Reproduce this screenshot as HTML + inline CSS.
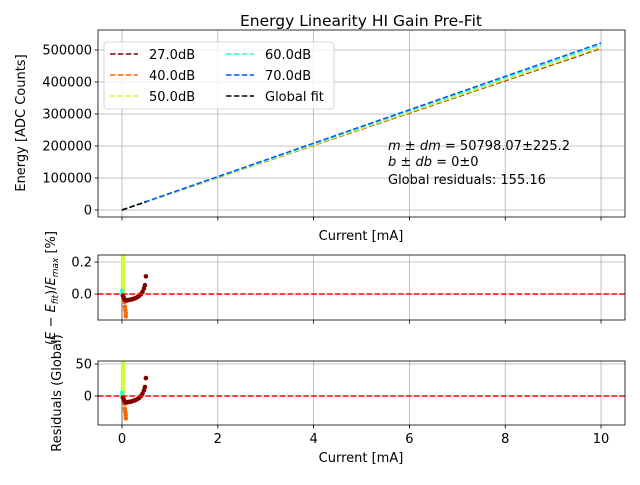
<!DOCTYPE html>
<html><head><meta charset="utf-8"><style>
body{margin:0;background:#fff;}
svg text{font-family:"DejaVu Sans","Liberation Sans",sans-serif;fill:#000;}
</style></head><body>
<svg id="c" width="640" height="480"></svg>
<script>
const gains=["27.0dB","40.0dB","50.0dB","60.0dB","70.0dB"];
const colors=["#800000","#ff6600","#ccff33","#33ffcc","#0055ff"];
const endEnergy=[505000,507000,509000,516000,522000];
const redX=[0.02,0.04,0.06,0.08,0.1,0.13,0.16,0.2,0.24,0.28,0.32,0.36,0.4,0.43,0.46,0.48,0.5];
const redRel=[-0.01,-0.025,-0.035,-0.04,-0.04,-0.038,-0.036,-0.034,-0.03,-0.026,-0.02,-0.012,0.0,0.015,0.035,0.055,0.11];
const redRes=[-2.5,-6,-9,-10,-10,-9.5,-9,-8.5,-7.5,-6.5,-5,-3,0,4,9,14,28];
const orX=[0.04,0.05,0.06,0.07,0.08,0.08];
const orRel=[-0.02,-0.05,-0.08,-0.1,-0.12,-0.14];
const orRes=[-5,-12,-20,-25,-30,-35];
const cyX=[0.0,0.01];
const cyRel=[0.02,0.0];
const cyRes=[5,0];
const xTicks=[0,2,4,6,8,10];
const yTicksTop=[0,100000,200000,300000,400000,500000];
const yTicksMid=[0.0,0.2];
const yTicksBot=[0,50];

const svg=document.getElementById('c');
const NS="http://www.w3.org/2000/svg";
function el(t,a,txt){const e=document.createElementNS(NS,t);for(const k in a)e.setAttribute(k,a[k]);if(txt!==undefined)e.textContent=txt;svg.appendChild(e);return e;}
const X0=98,X1=625,xmin=-0.5,xmax=10.5;
const sx=v=>X0+(v-xmin)/(xmax-xmin)*(X1-X0);
function mkY(top,bot,ymin,ymax){return v=>bot-(v-ymin)/(ymax-ymin)*(bot-top);}
const FS=13;
const panels=[
 {top:30,bot:217,ymin:-21875,ymax:562500,ticks:yTicksTop,name:'energy-panel'},
 {top:255,bot:320,ymin:-0.1625,ymax:0.244,ticks:yTicksMid,name:'relative-residual-panel'},
 {top:361,bot:425,ymin:-45.3,ymax:54.7,ticks:yTicksBot,name:'global-residual-panel'}];
panels.forEach((p,pi)=>{
 p.sy=mkY(p.top,p.bot,p.ymin,p.ymax);
 xTicks.forEach(t=>{let l=el('line',{x1:sx(t),x2:sx(t),y1:p.top,y2:p.bot,stroke:'#b0b0b0','stroke-width':0.8});
  let k=el('line',{x1:sx(t),x2:sx(t),y1:p.bot,y2:p.bot+3.5,stroke:'#000','stroke-width':0.8});
  if(pi==2){let tx=el('text',{x:sx(t),y:p.bot+18,'font-size':FS,'text-anchor':'middle'},t);}});
 p.ticks.forEach(t=>{let y=p.sy(t);let l=el('line',{x1:X0,x2:X1,y1:y,y2:y,stroke:'#b0b0b0','stroke-width':0.8});
  let k=el('line',{x1:X0-3.5,x2:X0,y1:y,y2:y,stroke:'#000','stroke-width':0.8});
  let tx=el('text',{x:X0-6,y:y+4.5,'font-size':FS,'text-anchor':'end'},pi==1?t.toFixed(1):t);});
});
const P0=panels[0];
gains.forEach((g,i)=>{let l=el('line',{x1:sx(0),y1:P0.sy(0),x2:sx(10),y2:P0.sy(endEnergy[i]),stroke:colors[i],'stroke-width':1.5,'stroke-dasharray':'5.5,2.4'});});
let gf=el('line',{x1:sx(0),y1:P0.sy(0),x2:sx(0.5),y2:P0.sy(0.5*50798),stroke:'#000','stroke-width':1.5,'stroke-dasharray':'5.5,2.4'});
[[panels[1],redRel,orRel,cyRel],[panels[2],redRes,orRes,cyRes]].forEach(([p,r,o,c],k)=>{
 const s=p.sy;
 let cp='clip'+k;
 let d=el('clipPath',{id:cp});let rc=document.createElementNS(NS,'rect');rc.setAttribute('x',X0);rc.setAttribute('y',p.top);rc.setAttribute('width',X1-X0);rc.setAttribute('height',p.bot-p.top);d.appendChild(rc);
 let yl=el('line',{x1:sx(0.02),x2:sx(0.02),y1:p.top,y2:s(0),stroke:colors[2],'stroke-width':4});
 let gl=el('line',{x1:sx(0),x2:sx(0),y1:s(0),y2:p.bot,stroke:'#999','stroke-width':1.5,'clip-path':'url(#'+cp+')'});
 orX.forEach((x,i)=>{let e=el('circle',{cx:sx(x),cy:s(o[i]),r:2.3,fill:colors[1],'clip-path':'url(#'+cp+')'});});
 cyX.forEach((x,i)=>{let e=el('circle',{cx:sx(x),cy:s(c[i]),r:2.3,fill:colors[3]});});
 redX.forEach((x,i)=>{let e=el('circle',{cx:sx(x),cy:s(r[i]),r:2.3,fill:colors[0]});});
 let z=el('line',{x1:X0,x2:X1,y1:s(0),y2:s(0),stroke:'#ff0000','stroke-width':1.5,'stroke-dasharray':'5.5,2.4'});
});
panels.forEach(p=>{let r=el('rect',{x:X0,y:p.top,width:X1-X0,height:p.bot-p.top,fill:'none',stroke:'#000','stroke-width':0.8});});
let lg=el('rect',{x:104,y:42,width:230,height:67,rx:3,fill:'#fff','fill-opacity':0.8,stroke:'#ccc','stroke-width':0.8});
const legNames=gains.concat(["Global fit"]);const legCols=colors.concat(["#000"]);
legNames.forEach((n,i)=>{const col=i<3?0:1,row=i%3;const lx=col?226:110,ly=54+row*21;
 let l=el('line',{x1:lx,x2:lx+28,y1:ly,y2:ly,stroke:legCols[i],'stroke-width':1.5,'stroke-dasharray':'5.5,2.4'});
 let t=el('text',{x:lx+39,y:ly+5,'font-size':FS},n);});
function T(x,y,s,txt,name,extra){let t=el('text',Object.assign({x:x,y:y,'font-size':s},extra||{}),txt);return t;}
T(361,26,15.5,'Energy Linearity HI Gain Pre-Fit','chart-title',{'text-anchor':'middle'});
let a1=T(388,150,FS,'','slope-annotation');a1.innerHTML='<tspan font-style="italic">m</tspan> ± <tspan font-style="italic">dm</tspan> = 50798.07±225.2';
let a2=T(388,166,FS,'','intercept-annotation');a2.innerHTML='<tspan font-style="italic">b</tspan> ± <tspan font-style="italic">db</tspan> = 0±0';
T(388,184,FS,'Global residuals: 155.16','global-residual-annotation');
T(361,240,FS,'Current [mA]','top-x-axis-title',{'text-anchor':'middle'});
T(361,462,FS,'Current [mA]','x-axis-title',{'text-anchor':'middle'});
T(25,123,FS,'Energy [ADC Counts]','energy-y-axis-title',{'text-anchor':'middle',transform:'rotate(-90 25 123)'});
let a3=T(55,288,FS,'','relative-residual-y-axis-title',{'text-anchor':'middle',transform:'rotate(-90 55 288)'});a3.innerHTML='(<tspan font-style="italic">E</tspan> − <tspan font-style="italic">E</tspan><tspan font-size="9" dy="3" font-style="italic">fit</tspan><tspan dy="-3">)/</tspan><tspan font-style="italic">E</tspan><tspan font-size="9" dy="3" font-style="italic">max</tspan><tspan dy="-3"> [%]</tspan>';
T(61,393,FS,'Residuals (Global)','global-residual-y-axis-title',{'text-anchor':'middle',transform:'rotate(-90 61 393)'});
</script>
</body></html>
